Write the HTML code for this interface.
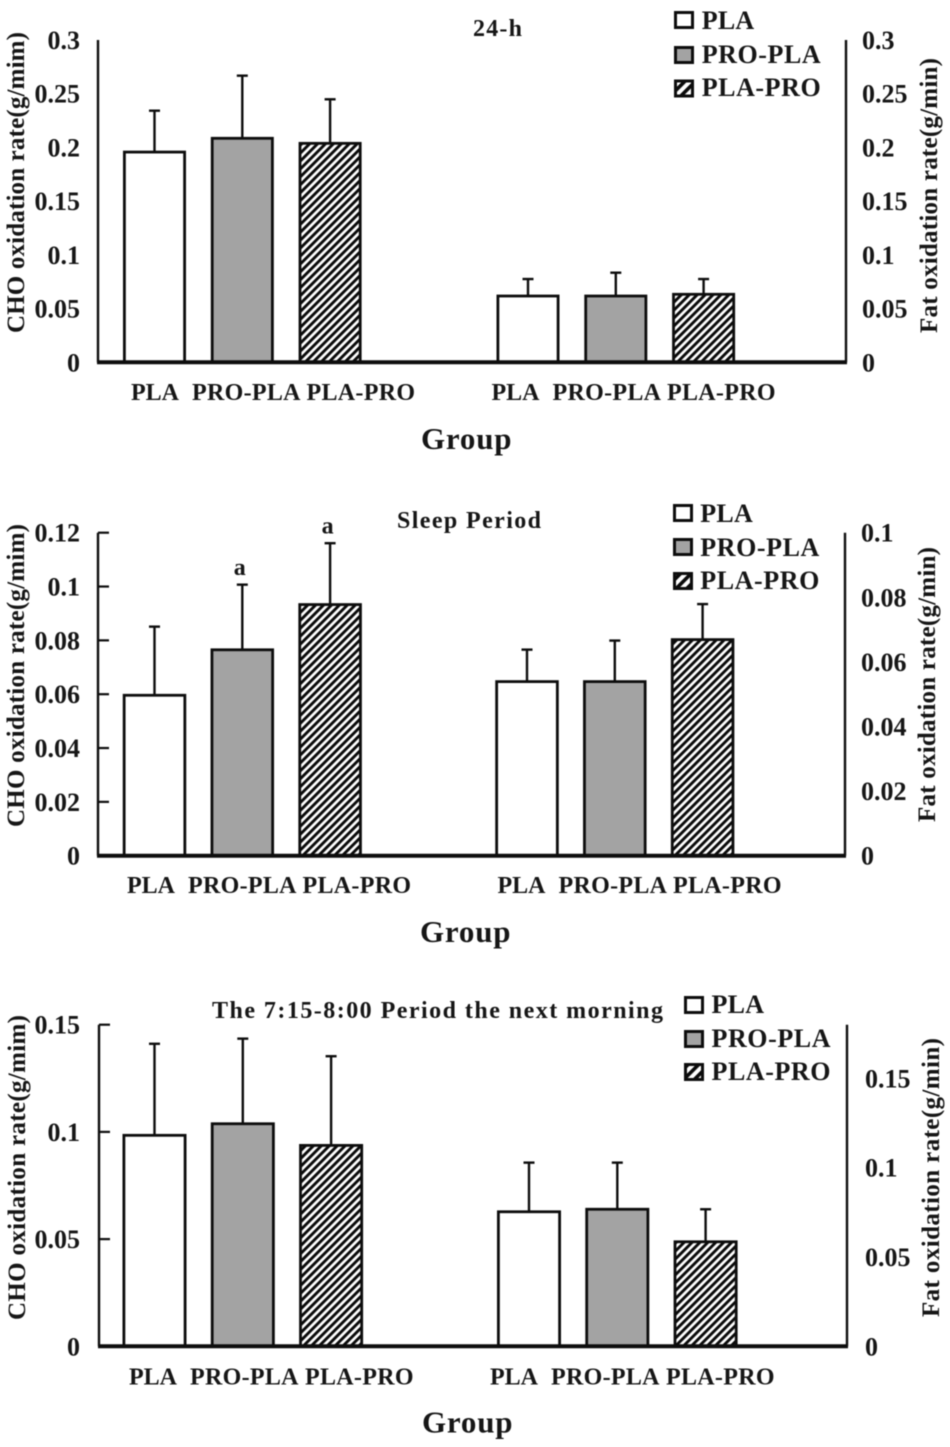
<!DOCTYPE html>
<html lang="en">
<head>
<meta charset="utf-8">
<title>Oxidation rates by group</title>
<style>
html,body{margin:0;padding:0;background:#fff;}
svg{display:block;filter:blur(0.45px);}
text{font-family:"Liberation Serif",serif;font-weight:bold;fill:#161616;}
</style>
</head>
<body>
<svg id="figure" xmlns="http://www.w3.org/2000/svg" width="950" height="1447" viewBox="0 0 950 1447">
<defs>
<pattern id="hatch" patternUnits="userSpaceOnUse" width="5.6" height="5.6" patternTransform="rotate(45)">
<rect width="5.6" height="5.6" fill="#fff"/>
<rect width="2.9" height="5.6" fill="#0a0a0a"/>
</pattern>
<pattern id="hatch-legend" patternUnits="userSpaceOnUse" width="7.5" height="7.5" patternTransform="rotate(45)">
<rect width="7.5" height="7.5" fill="#fff"/>
<rect width="3.6" height="7.5" fill="#0a0a0a"/>
</pattern>
</defs>
</svg>
<script>
// ---- Data ----
const categories = ["PLA", "PRO-PLA", "PLA-PRO"];

const dayChoMeans = [0.1957, 0.2085, 0.2038];
const dayChoErrors = [0.0385, 0.0583, 0.0410];
const dayFatMeans = [0.0617, 0.0617, 0.0633];
const dayFatErrors = [0.0158, 0.0217, 0.0142];
const dayLeftTicks = [0, 0.05, 0.1, 0.15, 0.2, 0.25, 0.3];
const dayRightTicks = [0, 0.05, 0.1, 0.15, 0.2, 0.25, 0.3];

const sleepChoMeans = [0.0596, 0.0765, 0.0933];
const sleepChoErrors = [0.0255, 0.0242, 0.0228];
const sleepFatMeans = [0.0539, 0.0539, 0.0669];
const sleepFatErrors = [0.0099, 0.0127, 0.0110];
const sleepLeftTicks = [0, 0.02, 0.04, 0.06, 0.08, 0.1, 0.12];
const sleepRightTicks = [0, 0.02, 0.04, 0.06, 0.08, 0.1];
const sleepChoMarks = ["", "a", "a"];

const morningChoMeans = [0.0984, 0.1038, 0.0937];
const morningChoErrors = [0.0427, 0.0397, 0.0416];
const morningFatMeans = [0.0753, 0.0767, 0.0585];
const morningFatErrors = [0.0275, 0.0261, 0.0182];
const morningLeftTicks = [0, 0.05, 0.1, 0.15];
const morningRightTicks = [0, 0.05, 0.1, 0.15];

// ---- Layout ----
const panels = [
  {key:"day", title:"24-h", titleX:473, titleY:36, titleW:49, choMeans:dayChoMeans, choErrors:dayChoErrors, fatMeans:dayFatMeans, fatErrors:dayFatErrors, leftTicks:dayLeftTicks, rightTicks:dayRightTicks, marks:null,
   leftMax:0.3, rightMax:0.3, top:40, base:362.3, axisL:98, axisR:846, tickMarks:false, leftC:154.5, rightC:528, step:87.8, barW:63,
   labelBaseline:400, labelL:131, labelR:491.5, offs:[0,61,175.5], groupX:421, groupY:449, rightLabelX:862,
   legX:674, legTextX:701.7, legRows:[11,46,79.5], legBase:[29,63,96],
   yL:{x:24,from:333,len:301}, yR:{x:937,from:333,len:275}},
  {key:"sleep", title:"Sleep Period", titleX:397, titleY:528, titleW:144, choMeans:sleepChoMeans, choErrors:sleepChoErrors, fatMeans:sleepFatMeans, fatErrors:sleepFatErrors, leftTicks:sleepLeftTicks, rightTicks:sleepRightTicks, marks:sleepChoMarks,
   leftMax:0.12, rightMax:0.1, top:532.7, base:855.7, axisL:98, axisR:845, tickMarks:true, leftC:154.5, rightC:527, step:87.8, barW:63.5,
   labelBaseline:893, labelL:127, labelR:497.5, offs:[0,61,175.5], groupX:420, groupY:942, rightLabelX:861,
   legX:673, legTextX:700.3, legRows:[504,538,572], legBase:[522,556,589],
   yL:{x:24,from:827,len:303}, yR:{x:935,from:822,len:275}},
  {key:"morning", title:"The 7:15-8:00 Period the next morning", titleX:212, titleY:1018, titleW:451, choMeans:morningChoMeans, choErrors:morningChoErrors, fatMeans:morningFatMeans, fatErrors:morningFatErrors, leftTicks:morningLeftTicks, rightTicks:morningRightTicks, marks:null,
   leftMax:0.15, rightMax:0.18, top:1024.7, base:1346.3, axisL:99, axisR:847, tickMarks:true, leftC:154.5, rightC:529, step:88.3, barW:64,
   labelBaseline:1384.5, labelL:129, labelR:490, offs:[0,61,176], groupX:422, groupY:1432.5, rightLabelX:865,
   legX:684, legTextX:711.5, legRows:[996,1030,1063], legBase:[1013,1047,1080],
   yL:{x:25,from:1320,len:305}, yR:{x:939,from:1317,len:279}}
];
const NS = "http://www.w3.org/2000/svg";
const fig = document.getElementById("figure");
const fills = ["#ffffff", "#a3a3a3", "url(#hatch)"];
const legendFills = ["#ffffff", "#a3a3a3", "url(#hatch-legend)"];
const INK = "#0d0d0d";

function add(parent, tag, attrs, txt) {
  const el = document.createElementNS(NS, tag);
  for (const k in attrs) el.setAttribute(k, attrs[k]);
  if (txt !== undefined) el.textContent = txt;
  parent.appendChild(el);
  return el;
}
function fitted(w) { return {textLength: w, lengthAdjust: "spacing"}; }
function slug(s) { return s.toLowerCase().replace(/[^a-z0-9]+/g, "-"); }

function drawSeries(g, p, means, errors, scale, startC, axisName) {
  means.forEach(function (v, i) {
    const c = startC + i * p.step;
    const yTop = scale(v);
    const yErr = scale(v + errors[i]);
    const stem = add(g, "line", {x1:c, x2:c, y1:yTop, y2:yErr, stroke:INK, "stroke-width":2.4});
    
    
    const cap = add(g, "line", {x1:c-5.5, x2:c+5.5, y1:yErr, y2:yErr, stroke:INK, "stroke-width":2.4});
    
    
    const bar = add(g, "rect", {x:c-p.barW/2+1.4, y:yTop, width:p.barW-2.8, height:p.base-yTop, fill:fills[i], stroke:INK, "stroke-width":2.8});
    
    
  });
}

panels.forEach(function (p) {
  const g = add(fig, "g", {});
  
  

  const yLeft = function (v) { return p.base - v / p.leftMax * (p.base - p.top); };
  const yRight = function (v) { return p.base - v / p.rightMax * (p.base - p.top); };

  drawSeries(g, p, p.choMeans, p.choErrors, yLeft, p.leftC, "cho");
  drawSeries(g, p, p.fatMeans, p.fatErrors, yRight, p.rightC, "fat");

  if (p.marks) {
    p.marks.forEach(function (m, i) {
      if (!m) return;
      const mark = add(g, "text", {x:p.leftC + i*p.step - 2.5, y:yLeft(p.choMeans[i] + p.choErrors[i]) - 9.5, "text-anchor":"middle", "font-size":24}, m);
      
      
    });
  }

  const leftAxis = add(g, "line", {x1:p.axisL, x2:p.axisL, y1:p.top, y2:p.base, stroke:INK, "stroke-width":2.4});
  
  
  const rightAxis = add(g, "line", {x1:p.axisR, x2:p.axisR, y1:p.top, y2:p.base, stroke:INK, "stroke-width":2.4});
  
  
  const xAxis = add(g, "line", {x1:p.axisL-1, x2:p.axisR+1, y1:p.base, y2:p.base, stroke:INK, "stroke-width":4});
  
  

  p.leftTicks.forEach(function (t) {
    const lab = add(g, "text", {x:80, y:yLeft(t)+9, "text-anchor":"end", "font-size":26}, String(t));
    
    
    if (p.tickMarks && t !== 0) {
      const tk = add(g, "line", {x1:p.axisL, x2:p.axisL+11, y1:yLeft(t), y2:yLeft(t), stroke:INK, "stroke-width":2.2});
      
      
    }
  });
  p.rightTicks.forEach(function (t) {
    const lab = add(g, "text", {x:p.rightLabelX, y:yRight(t)+9, "font-size":26}, String(t));
    
    
  });

  [p.labelL, p.labelR].forEach(function (startX) {
    categories.forEach(function (c, i) {
      const w = c === "PLA" ? 48 : 108.5;
      const lab = add(g, "text", Object.assign({x:startX + p.offs[i], y:p.labelBaseline, "font-size":24}, fitted(w)), c);
      
      
    });
  });

  const title = add(g, "text", Object.assign({x:p.titleX, y:p.titleY, "font-size":24}, fitted(p.titleW)), p.title);
  
  

  const xTitle = add(g, "text", Object.assign({x:p.groupX, y:p.groupY, "font-size":31}, fitted(90.5)), "Group");
  
  

  const yTitleL = add(g, "text", Object.assign({transform:"translate(" + p.yL.x + "," + p.yL.from + ") rotate(-90)", "font-size":25}, fitted(p.yL.len)), "CHO oxidation rate(g/mim)");
  
  

  const yTitleR = add(g, "text", Object.assign({transform:"translate(" + p.yR.x + "," + p.yR.from + ") rotate(-90)", "font-size":25}, fitted(p.yR.len)), "Fat oxidation rate(g/min)");
  
  

  categories.forEach(function (c, i) {
    const swatch = add(g, "rect", {x:p.legX+1.5, y:p.legRows[i]+1.5, width:17, height:15, fill:legendFills[i], stroke:INK, "stroke-width":3});
    
    
    const w = c === "PLA" ? 52.5 : 119;
    const lab = add(g, "text", Object.assign({x:p.legTextX, y:p.legBase[i], "font-size":26}, fitted(w)), c);
    
    
  });
});
</script>
</body>
</html>
